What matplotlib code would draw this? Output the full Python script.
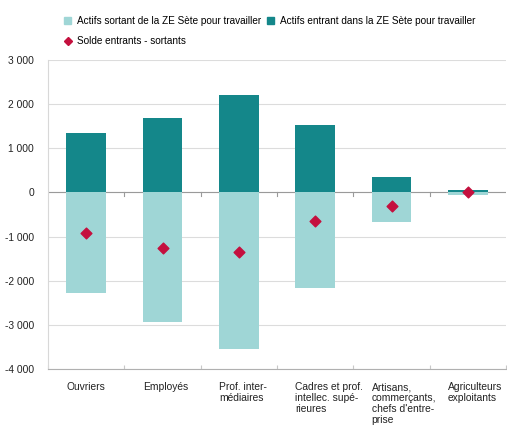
import matplotlib
matplotlib.use("Agg")
import matplotlib.pyplot as plt
from matplotlib.patches import Patch
from matplotlib.lines import Line2D
import numpy as np

plt.rcParams['font.family'] = ['Liberation Sans', 'DejaVu Sans']

categories = ["Ouvriers", "Employés", "Prof. inter-\nmédiaires", "Cadres et prof.\nintellec. supé-\nrieures",
              "Artisans,\ncommerçants,\nchefs d'entre-\nprise", "Agriculteurs\nexploitants"]
sortants = [-2270, -2930, -3550, -2160, -660, -50]
entrants = [1340, 1680, 2200, 1520, 360, 60]
solde = [-930, -1250, -1350, -640, -300, 10]
yticks = [3000, 2000, 1000, 0, -1000, -2000, -3000, -4000]
ytick_labels = ["3 000", "2 000", "1 000", "0", "-1 000", "-2 000", "-3 000", "-4 000"]

c_sort = "#9fd6d6"
c_ent = "#14878a"
c_solde = "#c4103e"

fig = plt.figure(figsize=(5.07, 4.26), dpi=100)
ax = fig.add_axes([48/507, 1-369/426, 458/507, 309/426])

x = np.arange(len(categories))
w = 0.52
ax.bar(x, sortants, width=w, color=c_sort, zorder=2)
ax.bar(x, entrants, width=w, color=c_ent, zorder=2)
ax.scatter(x, solde, marker="D", s=30, color=c_solde, zorder=3)

ax.set_xlim(-0.5, len(categories) - 0.5)
ax.set_ylim(-4000, 3000)
ax.set_yticks(yticks)
ax.set_yticklabels(ytick_labels, fontsize=7.4, color="#222222")
ax.yaxis.grid(True, color="#dcdcdc", linewidth=0.8, zorder=0)
ax.set_axisbelow(True)
ax.tick_params(axis="y", length=0, pad=10)
ax.axhline(0, color="#9a9a9a", linewidth=0.8, zorder=1)

for s in ["top", "right"]:
    ax.spines[s].set_visible(False)
ax.spines["left"].set_color("#d8d8d8")
ax.spines["bottom"].set_color("#b0b0b0")

# tick marks between categories
ax.set_xticks(np.arange(len(categories) + 1) - 0.5)
ax.set_xticklabels([])
ax.tick_params(axis="x", length=3, color="#c8c8c8", direction="in")
for xb in np.arange(1, len(categories)) - 0.5:
    ax.plot([xb, xb], [0, -90], color="#9a9a9a", linewidth=0.8, zorder=1)

for i, lab in enumerate(categories):
    ax.text(i - w/2, -4300, lab, ha="left", va="top", fontsize=7.4, color="#222222",
            linespacing=1.1)

handles = [Patch(color=c_sort), Line2D([], [], marker="D", color=c_solde, linestyle="none", markersize=4),
           Patch(color=c_ent)]
labels = ["Actifs sortant de la ZE Sète pour travailler", "Solde entrants - sortants",
          "Actifs entrant dans la ZE Sète pour travailler"]
fig.legend(handles, labels, ncol=2, loc="upper left", bbox_to_anchor=(55/507, 1-7/426),
           frameon=False, fontsize=7.2, handlelength=0.7, handleheight=0.7, handletextpad=0.6,
           columnspacing=0.6, labelspacing=1.0)

fig.savefig("out.png", dpi=100)
